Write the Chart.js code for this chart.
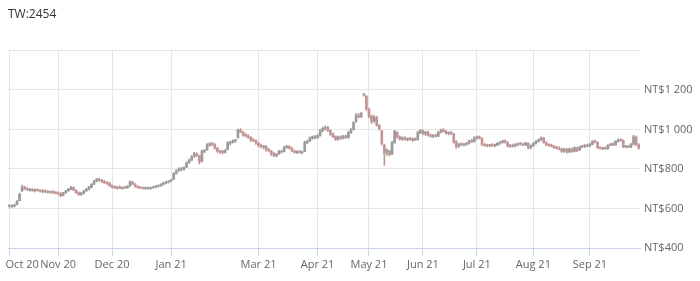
<!DOCTYPE html>
<html>

<head>
  <meta charset="UTF-8">
  <meta name="viewport" content="width=device-width, initial-scale=1.0">
  <style>
    body { margin: 0; background: #fff; }
    #wrap { width: 700px; height: 281px; }
  </style>
</head>

<body>
  <div id="wrap"><canvas id="stockChart"></canvas></div>

  <script src="https://cdn.jsdelivr.net/npm/chart.js@4.4.0/dist/chart.umd.min.js"></script>
  <script>
    // one row per trading day: [open, high, low, close]
    const ohlc = [
      // Oct 20
      [615,620,606,610],[610,618,605,612],[612,622,608,616],[620,640,618,636],[640,678,638,672],
      [690,718,685,710],[708,712,695,700],[700,706,690,694],[694,702,688,698],[698,700,686,690],
      [690,698,684,694],[694,700,688,692],[692,696,682,686],[686,694,680,690],[690,694,680,684],
      [684,690,678,682],[682,688,676,686],[686,690,676,680],[680,686,674,678],
      // Nov 20
      [678,684,670,676],[676,680,660,664],[666,682,664,680],[680,692,676,688],[690,702,686,698],
      [698,712,694,706],[706,710,690,694],[692,696,676,680],[680,684,666,670],[670,682,666,678],
      [678,692,674,688],[690,702,686,698],[698,712,694,708],[708,726,704,722],[724,742,720,738],
      [738,752,734,748],[748,754,738,744],[744,748,732,736],[736,742,726,730],[730,736,722,728],
      [728,732,712,716],
      // Dec 20
      [716,720,704,708],[708,714,700,704],[704,712,698,708],[708,714,700,702],[702,710,698,706],
      [706,712,700,704],[704,716,702,712],[714,740,712,734],[734,738,720,724],[722,726,708,712],
      [712,716,702,706],[706,710,700,704],[704,708,698,702],[702,708,696,704],[704,710,698,700],
      [700,708,696,706],[706,712,702,708],[708,716,704,712],[712,720,708,716],[716,726,712,722],
      [722,732,718,728],[728,738,724,734],[734,742,728,738],
      // Jan 21
      [740,748,734,744],[748,782,746,776],[778,796,774,790],[792,806,788,800],[800,808,790,796],
      [798,812,794,806],[810,836,806,830],[832,850,828,844],[846,868,842,862],[864,884,858,878],
      [876,882,862,868],[866,870,826,836],[840,896,836,890],[890,898,882,894],[898,928,894,922],
      [922,934,914,928],[928,936,918,924],[924,928,900,906],[904,910,884,890],[890,896,878,886],
      // Feb 21
      [886,894,876,884],[884,898,880,894],[898,938,896,932],[930,940,922,936],[936,948,930,942],
      [942,950,934,946],[960,1002,956,996],[996,1004,984,990],[988,990,966,972],[972,980,962,968],
      [968,974,954,960],[960,964,940,946],[946,954,938,944],[944,948,924,932],
      // Mar 21
      [930,936,912,918],[918,926,906,912],[912,920,902,916],[914,918,890,896],[896,904,886,892],
      [890,894,868,874],[874,884,862,866],[866,878,862,876],[878,894,874,890],[890,896,880,886],
      [888,914,886,910],[910,920,904,914],[914,918,900,906],[906,910,888,892],[892,896,880,884],
      [884,892,878,888],[888,894,880,882],[882,890,876,886],[890,940,888,934],[934,946,928,940],
      [942,962,938,956],[956,968,950,962],[962,970,952,958],
      // Apr 21
      [958,974,954,968],[970,1000,966,994],[994,1012,988,1006],[1006,1018,998,1010],[1010,1016,990,994],
      [994,998,970,976],[976,982,958,964],[964,968,944,950],[950,966,946,962],[962,968,950,956],
      [956,970,952,966],[966,972,954,958],[958,990,956,984],[984,1004,980,998],[1000,1040,998,1034],
      [1040,1080,1036,1072],[1072,1082,1058,1064],[1064,1086,1060,1080],[1175,1182,1168,1178],[1168,1172,1096,1104],
      // May 21
      [1100,1108,1060,1066],[1066,1074,1030,1040],[1044,1070,1036,1062],[1060,1066,1016,1022],[1020,1026,996,1004],
      [990,996,920,930],[920,926,818,880],[886,900,870,894],[890,896,866,874],[876,940,872,932],
      [932,996,930,990],[984,988,956,962],[962,968,946,952],[952,962,944,958],[958,964,946,950],
      [950,958,942,954],[954,960,944,948],[948,956,940,952],[952,958,944,946],[948,990,946,984],
      [984,1000,978,994],
      // Jun 21
      [994,998,972,978],[978,990,970,986],[986,992,966,970],[970,976,960,966],[966,974,958,970],
      [970,978,962,964],[966,990,964,986],[986,1002,982,996],[996,1004,986,990],[990,996,976,980],
      [980,988,972,984],[984,990,974,978],[978,980,930,936],[936,944,904,912],[914,930,910,926],
      [926,932,918,922],[922,930,916,926],[926,934,920,930],[930,946,926,942],[942,950,934,938],
      [940,962,936,958],
      // Jul 21
      [958,966,950,962],[962,968,952,956],[954,958,918,924],[924,928,914,920],[920,926,912,918],
      [918,924,912,922],[922,928,914,918],[918,926,912,920],[920,934,918,930],[930,938,924,934],
      [934,946,930,942],[942,948,930,936],[934,938,912,916],[916,924,908,920],[920,926,910,914],
      [916,928,912,924],[924,932,918,928],[928,934,920,926],[926,930,918,922],[922,936,918,932],
      [930,934,902,906],[908,922,902,918],
      // Aug 21
      [918,934,914,930],[930,944,926,940],[940,952,936,948],[948,962,944,958],[956,960,930,934],
      [932,938,918,922],[922,928,914,918],[918,926,912,916],[916,920,904,908],[908,914,900,906],
      [906,912,896,900],[900,906,884,890],[890,904,884,900],[900,904,880,886],[886,906,882,902],
      [902,906,884,888],[890,912,886,908],[906,910,888,894],[896,916,892,912],[912,920,906,916],
      [916,924,908,920],[920,926,912,914],
      // Sep 21
      [916,930,912,926],[926,944,922,940],[940,948,932,936],[934,938,904,908],[908,912,900,904],
      [904,910,898,906],[906,912,900,902],[902,924,900,920],[920,930,916,926],[926,932,918,922],
      [922,944,920,940],[940,952,936,948],[948,954,940,944],[944,948,908,912],[912,918,906,914],
      [914,920,908,910],[910,930,908,926],[926,972,922,962],[960,966,918,924],[922,928,900,906]
    ]

    // first trading day of each labelled month
    const monthStarts = [0, 19, 40, 63, 97, 120, 140, 161, 182, 204, 226]
    const monthLabels = ["Oct 20", "Nov 20", "Dec 20", "Jan 21", "Mar 21", "Apr 21", "May 21", "Jun 21", "Jul 21", "Aug 21", "Sep 21"]
    const priceTicks = [400, 600, 800, 1000, 1200, 1400]

    const upColor = "#9b9b9b"
    const downColor = "#c29494"
    const candleColor = (i) => ohlc[i][3] >= ohlc[i][0] ? upColor : downColor

    function money(v) {
      if (v >= 1400) return ""
      if (v >= 1000) return "NT$" + Math.floor(v / 1000) + " " + String(v % 1000).padStart(3, "0")
      return "NT$" + v
    }

    Chart.defaults.font.family = "'Open Sans', sans-serif"
    Chart.defaults.font.size = 11
    Chart.defaults.color = "#666"

    const ctx = document.getElementById("stockChart").getContext("2d")

    const chart = new Chart(ctx, {
      type: "bar",
      data: {
        datasets: [
          {
            label: "wick",
            data: ohlc.map((c, i) => ({ x: i, y: [c[2], c[1]] })),
            backgroundColor: (c) => candleColor(c.dataIndex),
            barThickness: 1,
            grouped: false,
            order: 2
          },
          {
            label: "body",
            data: ohlc.map((c, i) => ({ x: i, y: [c[0], c[3]] })),
            backgroundColor: (c) => candleColor(c.dataIndex),
            barThickness: 2,
            minBarLength: 1,
            grouped: false,
            order: 1
          }
        ]
      },
      options: {
        responsive: true,
        maintainAspectRatio: false,
        animation: false,
        layout: { padding: { left: 8, right: 0, top: 0, bottom: 0 } },
        plugins: {
          legend: { display: false },
          tooltip: { enabled: false },
          title: {
            display: true,
            text: "TW:2454",
            align: "start",
            color: "#333",
            font: { size: 12, weight: "normal" },
            padding: { top: 7, bottom: 29 }
          }
        },
        scales: {
          x: {
            type: "linear",
            offset: false,
            min: -0.5,
            max: 245.5,
            afterBuildTicks: (scale) => {
              scale.ticks = monthStarts.map(v => ({ value: v }))
            },
            afterFit: (scale) => {
              scale.height = 33
              scale.paddingLeft = 0
              scale.paddingRight = 0
            },
            ticks: {
              autoSkip: false,
              maxRotation: 0,
              padding: 2,
              // the first label sits to the right of its tick
              callback: (v) => (v === 0 ? "         " : "") + monthLabels[monthStarts.indexOf(v)]
            },
            grid: { offset: false, color: "#e6e6e6", tickColor: "#ccd6eb", tickLength: 8 },
            border: { color: "#ccd6eb" }
          },
          y: {
            position: "right",
            min: 400,
            max: 1400,
            afterBuildTicks: (scale) => {
              scale.ticks = priceTicks.map(v => ({ value: v }))
            },
            afterFit: (scale) => { scale.width = 60 },
            ticks: { padding: 4, callback: (v) => money(v) },
            grid: { color: "#e6e6e6", drawTicks: false },
            border: { display: false }
          }
        }
      }
    })
  </script>
</body>
</html>
